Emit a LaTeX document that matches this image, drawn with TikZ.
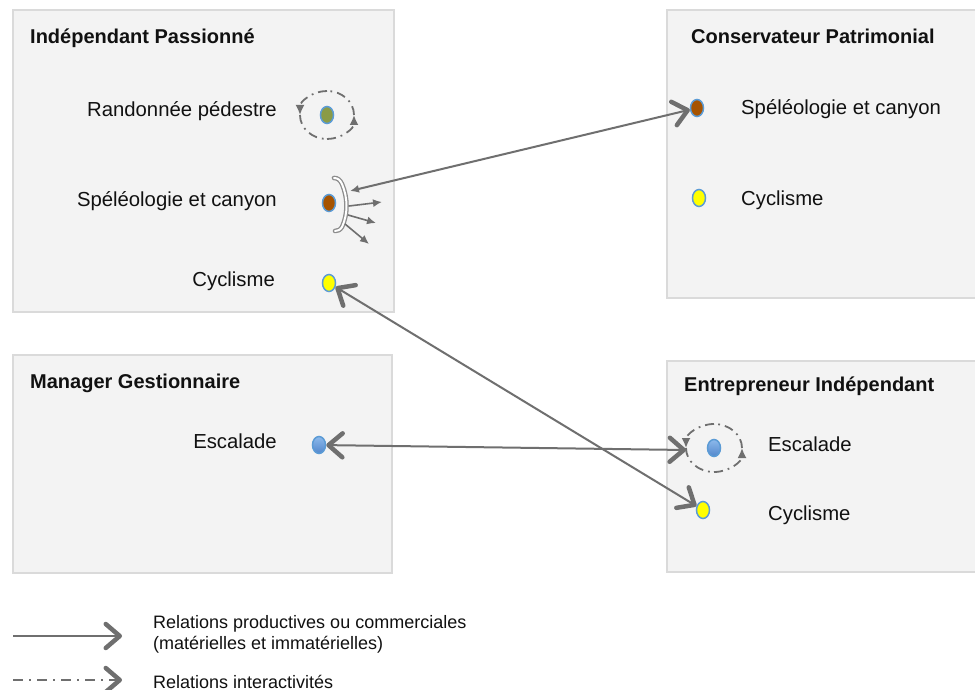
\documentclass[tikz,border=0pt]{standalone}
\usepackage{fontspec}
\setmainfont{Liberation Sans}
\usetikzlibrary{arrows.meta,shapes.geometric}
\definecolor{boxfill}{HTML}{F3F3F3}
\definecolor{boxline}{HTML}{DADADA}
\definecolor{conn}{HTML}{6F6F6F}
\definecolor{dotline}{HTML}{5B9BD5}
\definecolor{cgreen}{HTML}{8A9B47}
\definecolor{cbrown}{HTML}{A65300}
\definecolor{cyellow}{HTML}{FFFF00}
\definecolor{cbluetop}{HTML}{8DB9EC}
\definecolor{cbluebot}{HTML}{5287CB}
\definecolor{txt}{HTML}{111111}
\tikzset{
  bigtip/.tip={Straight Barb[length=14pt,width=24pt,line width=4.5pt,round]},
  smalltip/.tip={Latex[length=9pt,width=8pt]},
  looptip/.tip={Latex[length=10pt,width=9pt]},
}
\begin{document}
\begin{tikzpicture}[x=1pt,y=-1pt,
  panel/.style={draw=boxline,line width=2pt,fill=boxfill},
  ttl/.style={font=\fontsize{20}{24}\selectfont\bfseries,text=txt,inner sep=0,anchor=base west},
  lbl/.style={font=\fontsize{20.3}{24}\selectfont,text=txt,inner sep=0},
  lgd/.style={font=\fontsize{18}{21}\selectfont,text=txt,inner sep=0,anchor=base west},
  dotnode/.style={ellipse,draw=dotline,line width=1.5pt,minimum width=13pt,minimum height=17pt,inner sep=0},
  bluedot/.style={dotnode,top color=cbluetop,bottom color=cbluebot},
  rel/.style={draw=conn,line width=2pt},
  sprout/.style={draw=conn,line width=1.6pt,-smalltip},
  loopln/.style={draw=conn,line width=1.8pt,dash pattern=on 9pt off 5pt on 1.8pt off 5pt},
]
\useasboundingbox (0,0) rectangle (975,690);
\fill[white] (0,0) rectangle (975,690);

% panels
\draw[panel] (13,10) rectangle (394,312);
\draw[panel] (667,10) rectangle (990,298);
\draw[panel] (13,355) rectangle (392,573);
\draw[panel] (667,361) rectangle (990,572);

% titles
\node[ttl] (tIP) at (30,44) {Indépendant Passionné};
\node[ttl] (tCP) at (691,44) {Conservateur Patrimonial};
\node[ttl] (tMG) at (30,388) {Manager Gestionnaire};
\node[ttl] (tEI) at (684,391) {Entrepreneur Indépendant};

% labels
\node[lbl,anchor=base east] (lIPr) at (277,117) {Randonnée pédestre};
\node[lbl,anchor=base east] (lIPs) at (277,207) {Spéléologie et canyon};
\node[lbl,anchor=base east] (lIPc) at (275,286) {Cyclisme};
\node[lbl,anchor=base west] (lCPs) at (741,115) {Spéléologie et canyon};
\node[lbl,anchor=base west] (lCPc) at (741,205) {Cyclisme};
\node[lbl,anchor=base east] (lMGe) at (277,448) {Escalade};
\node[lbl,anchor=base west] (lEIe) at (768,451) {Escalade};
\node[lbl,anchor=base west] (lEIc) at (768,520) {Cyclisme};

% dots
\node[dotnode,fill=cgreen] (ipRand) at (327,115) {};
\node[dotnode,fill=cbrown] (ipSpe) at (329,203) {};
\node[dotnode,fill=cyellow] (ipCyc) at (329,283) {};
\node[dotnode,fill=cbrown] (cpSpe) at (697,108) {};
\node[dotnode,fill=cyellow] (cpCyc) at (699,198) {};
\node[bluedot] (mgEsc) at (319,445) {};
\node[bluedot] (eiEsc) at (714,448) {};
\node[dotnode,fill=cyellow] (eiCyc) at (703,510) {};

% interaction loops
\draw[loopln,-looptip] (ipRand) ++(0,-24) arc[start angle=-90,end angle=-180,x radius=27,y radius=24];
\draw[loopln] (ipRand) ++(-27,0) arc[start angle=180,end angle=90,x radius=27,y radius=24];
\draw[loopln,-looptip] (ipRand) ++(0,24) arc[start angle=90,end angle=0,x radius=27,y radius=24];
\draw[loopln] (ipRand) ++(27,0) arc[start angle=0,end angle=-90,x radius=27,y radius=24];

\draw[loopln,-looptip] (eiEsc) ++(0,-24) arc[start angle=-90,end angle=-180,x radius=28,y radius=24];
\draw[loopln] (eiEsc) ++(-28,0) arc[start angle=180,end angle=90,x radius=28,y radius=24];
\draw[loopln,-looptip] (eiEsc) ++(0,24) arc[start angle=90,end angle=0,x radius=28,y radius=24];
\draw[loopln] (eiEsc) ++(28,0) arc[start angle=0,end angle=-90,x radius=28,y radius=24];

% crescent (spread) around Speleologie
\draw[draw=conn!80,double=white,double distance=2pt,line width=1.3pt,line cap=round]
  (334,178) .. controls (338,178) and (340,180) .. (342,184)
  .. controls (348,198) and (348,214) .. (342,227)
  .. controls (340,230) and (338,231) .. (335,231);
\coordinate (crIn) at (350,191);
\coordinate (crO1) at (349,206);
\coordinate (crO2) at (348,215);
\coordinate (crO3) at (345,224);
\coordinate (crT1) at (382,202);
\coordinate (crT2) at (376,223);
\coordinate (crT3) at (369,244);
\draw[sprout] (crO1) -- (crT1);
\draw[sprout] (crO2) -- (crT2);
\draw[sprout] (crO3) -- (crT3);

% relations
\coordinate (eiLoopL) at (686,450);
\draw[rel,smalltip-bigtip] (crIn) -- (cpSpe);
\draw[rel,bigtip-bigtip] (ipCyc) -- (eiCyc);
\draw[rel,bigtip-bigtip] (mgEsc) -- (eiLoopL);

% legend
\coordinate (lg1a) at (13,636);
\coordinate (lg1b) at (122,636);
\coordinate (lg2a) at (13,680);
\coordinate (lg2b) at (122,680);
\draw[rel,-bigtip] (lg1a) -- (lg1b);
\draw[draw=conn,line width=2pt,dash pattern=on 10pt off 6pt on 2pt off 6pt,-bigtip] (lg2a) -- (lg2b);
\node[lgd] (lgT1) at (153,628) {Relations productives ou commerciales};
\node[lgd] (lgT2) at (153,649) {(matérielles et immatérielles)};
\node[lgd] (lgT3) at (153,688) {Relations interactivités};
\end{tikzpicture}
\end{document}
